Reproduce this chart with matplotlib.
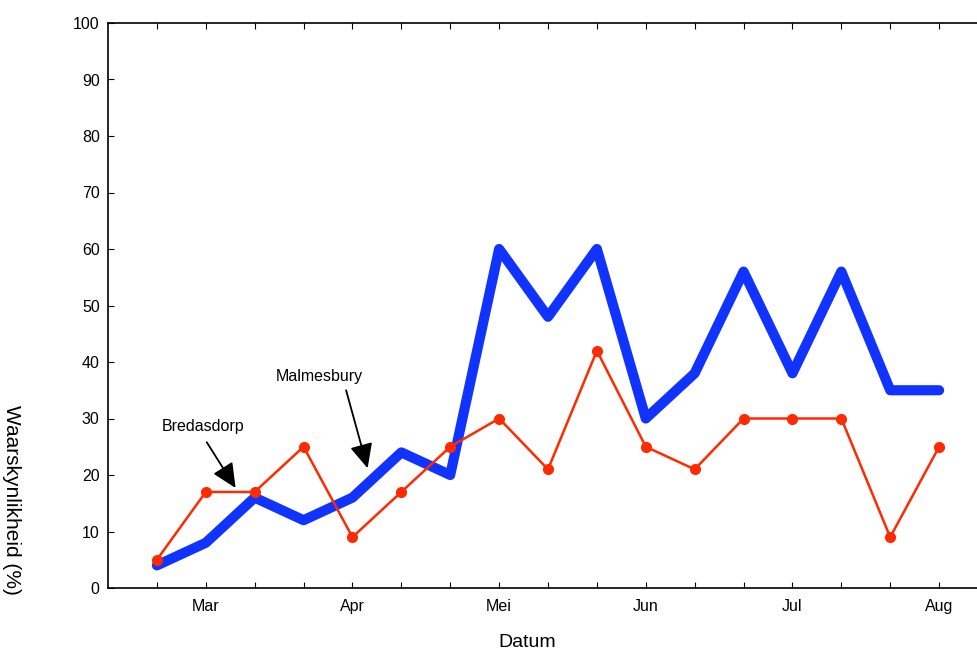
import matplotlib
matplotlib.use("Agg")
import matplotlib.pyplot as plt

plt.rcParams['font.family'] = ['Liberation Sans', 'DejaVu Sans']

# data: 17 half-month points, Mar .. Aug labels on every 3rd
maande = ['Mar', 'Apr', 'Mei', 'Jun', 'Jul', 'Aug']
maand_posisie = [1, 4, 7, 10, 13, 16]
malmesbury = [4, 8, 16, 12, 16, 24, 20, 60, 48, 60, 30, 38, 56, 38, 56, 35, 35]
bredasdorp = [5, 17, 17, 25, 9, 17, 25, 30, 21, 42, 25, 21, 30, 30, 30, 9, 25]
x = list(range(len(malmesbury)))

fig = plt.figure(figsize=(9.77, 6.53), dpi=100)
ax = fig.add_axes([108/977, 65/653, 880/977, 565/653])

ax.plot(x, malmesbury, color='#1033ff', linewidth=7.3, solid_capstyle='round',
        solid_joinstyle='round', zorder=2)
ax.plot(x, bredasdorp, color='#ff2a00', linewidth=1.8, marker='o', markersize=7,
        zorder=3)

ax.set_xlim(-1, 17)
ax.set_ylim(0, 100)
ax.set_yticks(range(0, 101, 10))
ax.set_xticks(x, minor=True)
ax.set_xticks(maand_posisie)
ax.set_xticklabels(maande)
ax.tick_params(axis='both', which='both', direction='in', length=4, width=0.8,
               labelsize=11.5, top=True, right=False)
ax.tick_params(axis='y', pad=6)
ax.tick_params(axis='x', pad=8)
for s in ax.spines.values():
    s.set_linewidth(1.2)

fig.text(527.5/977, 1 - 647/653, 'Datum', fontsize=14, ha='center', va='baseline')
fig.text(11/977, 1 - 500/653, 'Waarskynlikheid (%)', rotation=270, fontsize=15,
         ha='center', va='center')

# annotasies
pyl = dict(arrowstyle='-|>,head_length=0.75,head_width=0.35', color='black',
           lw=1.3, mutation_scale=20, shrinkA=0, shrinkB=0)
ax.text(0.95, 28.5, 'Bredasdorp', fontsize=11.5, ha='center', va='center')
ax.annotate('', xy=(1.61, 17.7), xytext=(1.02, 25.8), arrowprops=pyl)
ax.text(3.32, 37.5, 'Malmesbury', fontsize=11.5, ha='center', va='center')
ax.annotate('', xy=(4.31, 21.2), xytext=(3.87, 35.0), arrowprops=pyl)

fig.savefig('out.png', dpi=100)
